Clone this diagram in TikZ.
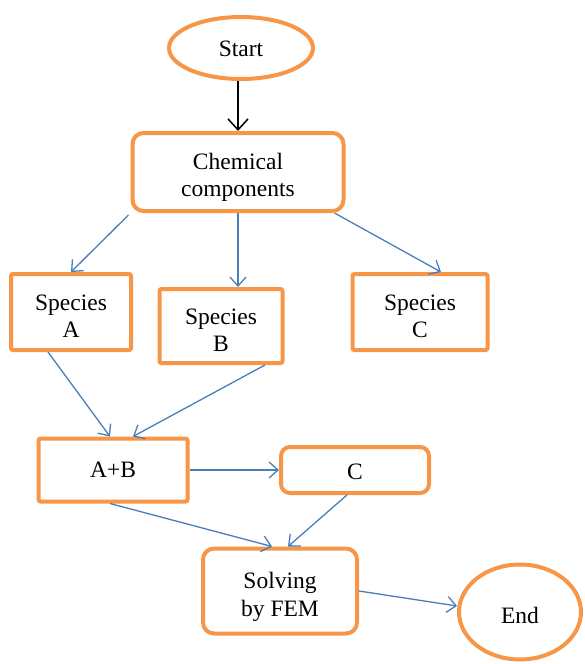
\documentclass[tikz,border=0pt]{standalone}
\usepackage{fontspec}
\setmainfont{Liberation Serif}
\usepackage{tikz}
\usetikzlibrary{arrows.meta}
\usetikzlibrary{shapes.geometric}
\definecolor{boxorange}{RGB}{247,150,70}
\definecolor{linkblue}{RGB}{74,126,187}
\tikzset{
  chartbox/.style={draw=boxorange,line width=4pt,inner sep=0pt,align=center,
    font=\fontsize{23.5}{27.5}\selectfont,text depth=0pt,text height=16pt},
  twoline/.style={text height=51pt},
  roundbox/.style={chartbox,rectangle,rounded corners=11pt},
  flatbox/.style={chartbox,rectangle,rounded corners=2pt},
  termbox/.style={chartbox,ellipse},
  link/.style={draw=linkblue,line width=1.3pt,-{Straight Barb[length=9pt,width=16pt]}},
}

\begin{document}
\begin{tikzpicture}[x=1pt,y=-1pt]
\useasboundingbox (0,0) rectangle (585,664);
\node[termbox,minimum width=144pt,minimum height=62pt] (start) at (241,48) {Start};
\node[roundbox,twoline,text height=49pt,minimum width=211pt,minimum height=78pt] (chem) at (238,172) {Chemical\\components};
\node[flatbox,twoline,minimum width=120pt,minimum height=76pt] (spA) at (71,312) {Species\\A};
\node[flatbox,twoline,minimum width=123pt,minimum height=74pt] (spB) at (221,326) {Species\\B};
\node[flatbox,twoline,minimum width=135pt,minimum height=76pt] (spC) at (420,312) {Species\\C};
\node[flatbox,text height=15pt,minimum width=149pt,minimum height=63pt] (ab) at (113,470) {A+B};
\node[roundbox,rounded corners=9pt,text height=19pt,minimum width=148pt,minimum height=46pt] (c) at (355,470) {C};
\node[roundbox,twoline,text height=50pt,minimum width=154pt,minimum height=85pt] (solv) at (280,591) {Solving\\by FEM};
\node[termbox,text height=23pt,minimum width=122pt,minimum height=95pt] (end) at (520,612) {End};

\draw[line width=1.5pt,-{Straight Barb[length=11pt,width=20pt]}] ([xshift=-3pt]start.south) -- ([xshift=-3pt]start.south |- chem.north);
\draw[link] ([xshift=-2pt,yshift=-2pt]chem.south west) -- (spA.north);
\draw[link] (chem.south) -- (chem.south |- spB.north);
\draw[link] ([xshift=-11pt]chem.south east) -- ([xshift=21pt]spC.north);
\draw[link] ([xshift=-23pt]spA.south) -- ([xshift=-3pt]ab.north);
\draw[link] ([xshift=44pt]spB.south) -- ([xshift=20pt]ab.north);
\draw[link] (ab.east) -- (c.west);
\draw[link] ([xshift=-3pt]ab.south) -- ([xshift=-8pt]solv.north);
\draw[link] ([xshift=-8pt]c.south) -- ([xshift=8pt]solv.north);
\draw[link] (solv.east) -- ([yshift=6pt]end.west);
\end{tikzpicture}
\end{document}
